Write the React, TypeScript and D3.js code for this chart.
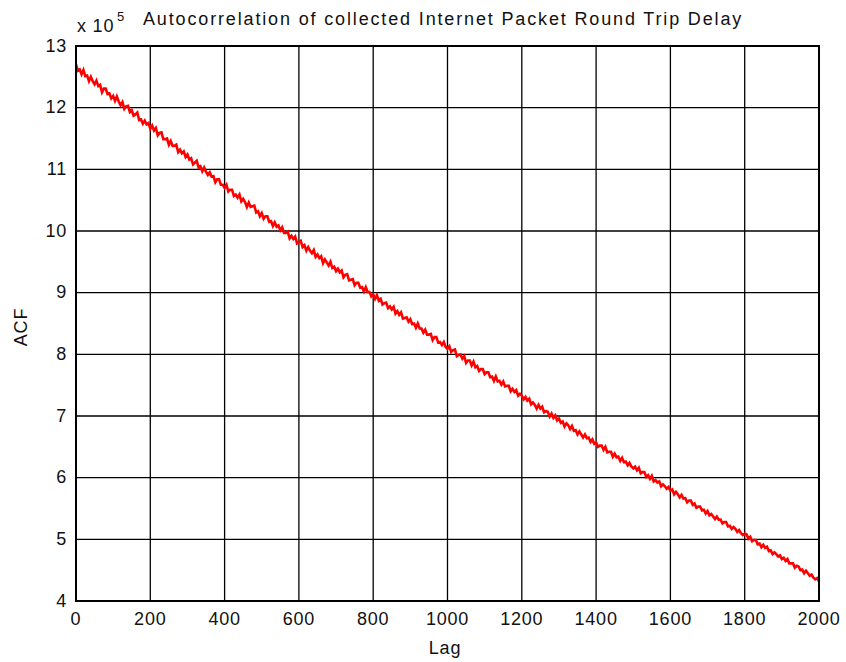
import React from "react";
import * as d3 from "d3";

// Autocorrelation (in units of 1e5) sampled every 5 lags, lag 0..2000
const lagStep = 5;
const acfValues: number[] = [
  12.70, 12.60, 12.62, 12.54, 12.61, 12.51, 12.52, 12.43, 12.50, 12.43, 12.38, 12.44, 12.35, 12.37, 12.25, 12.31, 12.31, 12.22, 12.23, 12.15,
  12.19, 12.11, 12.18, 12.10, 12.04, 12.09, 11.98, 12.02, 12.03, 11.93, 11.96, 11.87, 11.89, 11.92, 11.80, 11.81, 11.74, 11.79, 11.73, 11.75,
  11.66, 11.71, 11.63, 11.67, 11.55, 11.59, 11.60, 11.49, 11.49, 11.50, 11.40, 11.46, 11.38, 11.38, 11.40, 11.28, 11.32, 11.26, 11.29, 11.20,
  11.24, 11.16, 11.18, 11.08, 11.11, 11.14, 11.03, 11.05, 10.97, 11.03, 10.96, 10.91, 10.95, 10.88, 10.89, 10.79, 10.84, 10.84, 10.75, 10.75,
  10.70, 10.75, 10.64, 10.67, 10.67, 10.57, 10.59, 10.54, 10.59, 10.48, 10.52, 10.47, 10.39, 10.46, 10.39, 10.40, 10.41, 10.30, 10.32, 10.24,
  10.29, 10.20, 10.24, 10.24, 10.15, 10.16, 10.08, 10.14, 10.07, 10.09, 10.01, 10.06, 9.97, 9.97, 9.99, 9.88, 9.92, 9.87, 9.91, 9.80,
  9.82, 9.84, 9.74, 9.77, 9.68, 9.74, 9.68, 9.64, 9.69, 9.58, 9.62, 9.56, 9.59, 9.48, 9.54, 9.49, 9.44, 9.50, 9.40, 9.42,
  9.35, 9.39, 9.33, 9.36, 9.25, 9.29, 9.30, 9.20, 9.21, 9.22, 9.12, 9.16, 9.16, 9.08, 9.09, 9.02, 9.09, 9.01, 9.01, 8.94,
  8.97, 8.90, 8.96, 8.87, 8.90, 8.81, 8.83, 8.84, 8.75, 8.78, 8.73, 8.77, 8.66, 8.70, 8.64, 8.68, 8.58, 8.59, 8.60, 8.53,
  8.57, 8.49, 8.50, 8.43, 8.50, 8.42, 8.42, 8.35, 8.40, 8.32, 8.32, 8.33, 8.23, 8.28, 8.28, 8.19, 8.20, 8.15, 8.20, 8.12,
  8.09, 8.13, 8.04, 8.07, 8.08, 7.97, 7.99, 8.00, 7.93, 7.97, 7.86, 7.90, 7.90, 7.82, 7.88, 7.79, 7.81, 7.73, 7.76, 7.76,
  7.68, 7.71, 7.71, 7.63, 7.64, 7.57, 7.64, 7.56, 7.57, 7.51, 7.56, 7.48, 7.49, 7.49, 7.40, 7.44, 7.39, 7.42, 7.33, 7.36,
  7.33, 7.27, 7.31, 7.25, 7.28, 7.19, 7.22, 7.18, 7.12, 7.18, 7.12, 7.15, 7.06, 7.08, 7.07, 6.99, 7.04, 6.97, 7.01, 6.93,
  6.96, 6.89, 6.91, 6.83, 6.88, 6.85, 6.79, 6.84, 6.76, 6.77, 6.70, 6.75, 6.70, 6.65, 6.70, 6.64, 6.65, 6.58, 6.62, 6.55,
  6.57, 6.50, 6.52, 6.52, 6.45, 6.50, 6.41, 6.42, 6.42, 6.34, 6.39, 6.33, 6.34, 6.27, 6.32, 6.25, 6.26, 6.20, 6.24, 6.18,
  6.15, 6.18, 6.12, 6.16, 6.07, 6.09, 6.09, 6.01, 6.04, 5.98, 6.03, 5.94, 5.96, 5.92, 5.94, 5.86, 5.89, 5.86, 5.82, 5.85,
  5.79, 5.81, 5.73, 5.77, 5.73, 5.68, 5.72, 5.66, 5.67, 5.60, 5.63, 5.63, 5.56, 5.58, 5.51, 5.53, 5.53, 5.47, 5.48, 5.42,
  5.46, 5.39, 5.41, 5.37, 5.33, 5.37, 5.32, 5.32, 5.26, 5.28, 5.28, 5.21, 5.22, 5.17, 5.20, 5.17, 5.12, 5.15, 5.10, 5.07,
  5.09, 5.08, 5.01, 5.04, 4.97, 4.99, 4.99, 4.92, 4.93, 4.87, 4.91, 4.86, 4.88, 4.81, 4.82, 4.76, 4.79, 4.76, 4.72, 4.74,
  4.68, 4.70, 4.65, 4.68, 4.61, 4.61, 4.61, 4.54, 4.57, 4.56, 4.50, 4.51, 4.45, 4.49, 4.45, 4.41, 4.43, 4.38, 4.35, 4.37,
  4.32,
];

const xTicks = [0, 200, 400, 600, 800, 1000, 1200, 1400, 1600, 1800, 2000];
const yTicks = [4, 5, 6, 7, 8, 9, 10, 11, 12, 13];

const title = "Autocorrelation of collected Internet Packet Round Trip Delay";
const xLabel = "Lag";
const yLabel = "ACF";

const W = 846;
const H = 662;
const plot = { left: 76, right: 819, top: 46, bottom: 601 };
const font = "'Liberation Sans', Arial, Helvetica, sans-serif";

export default function App() {
  const x = d3.scaleLinear().domain([0, 2000]).range([plot.left, plot.right]);
  const y = d3.scaleLinear().domain([4, 13]).range([plot.bottom, plot.top]);

  const points: [number, number][] = acfValues.map((v, i) => [i * lagStep, v]);
  const line = d3
    .line<[number, number]>()
    .x((d) => x(d[0]))
    .y((d) => y(d[1]));

  return (
    <svg
      width={W}
      height={H}
      style={{ position: "absolute", left: 0, top: 0, background: "#fff" }}
      fontFamily={font}
    >
      <rect x={0} y={0} width={W} height={H} fill="#fff" />

      {/* grid */}
      <g stroke="#000" strokeWidth={1.3}>
        {xTicks.map((t) => (
          <line key={"gx" + t} x1={x(t)} x2={x(t)} y1={plot.top} y2={plot.bottom} />
        ))}
        {yTicks.map((t) => (
          <line key={"gy" + t} x1={plot.left} x2={plot.right} y1={y(t)} y2={y(t)} />
        ))}
      </g>

      {/* series */}
      <path d={line(points) || ""} fill="none" stroke="#ff0000" strokeWidth={2.6} strokeLinejoin="miter" />

      {/* axes box */}
      <rect
        x={plot.left}
        y={plot.top}
        width={plot.right - plot.left}
        height={plot.bottom - plot.top}
        fill="none"
        stroke="#000"
        strokeWidth={2}
      />

      {/* tick labels */}
      <g fontSize={18} fill="#111" letterSpacing={0.8}>
        {xTicks.map((t) => (
          <text key={"tx" + t} x={x(t)} y={625} textAnchor="middle">
            {t}
          </text>
        ))}
        {yTicks.map((t) => (
          <text key={"ty" + t} x={67} y={y(t) + 5.5} textAnchor="end">
            {t}
          </text>
        ))}
      </g>

      {/* exponent */}
      <text x={77} y={32} fontSize={18} fill="#111" letterSpacing={0.8}>
        x 10
      </text>
      <text x={117} y={21} fontSize={13} fill="#111">
        5
      </text>

      {/* title */}
      <text x={143} y={25} fontSize={18} fill="#111" letterSpacing={1.85}>
        {title}
      </text>

      {/* axis labels */}
      <text x={445} y={654} fontSize={18} fill="#111" textAnchor="middle" letterSpacing={0.8}>
        {xLabel}
      </text>
      <text
        transform={`translate(27, 327) rotate(-90)`}
        fontSize={18}
        fill="#111"
        textAnchor="middle"
        letterSpacing={0.8}
      >
        {yLabel}
      </text>
    </svg>
  );
}
